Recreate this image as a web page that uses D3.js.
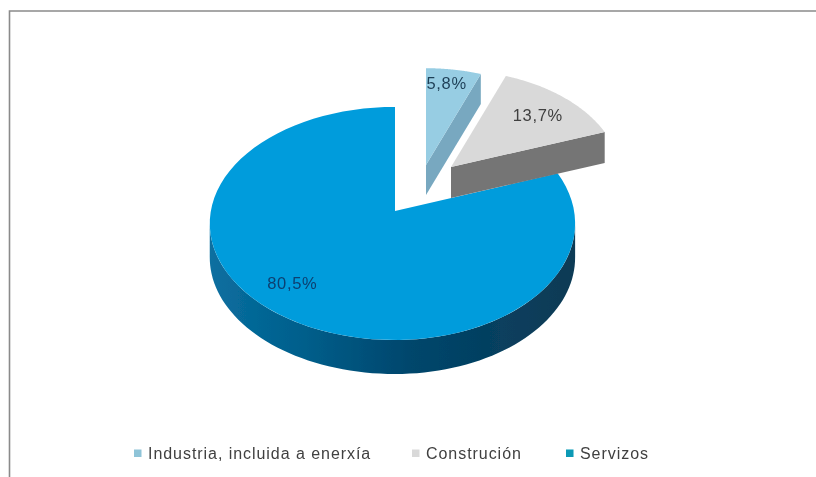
<!DOCTYPE html>
<html><head><meta charset="utf-8">
<script src="https://cdnjs.cloudflare.com/ajax/libs/d3/7.8.5/d3.min.js"></script>
<style>html,body{margin:0;padding:0;background:#fff}svg{display:block}text{font-family:"Liberation Sans",Arial,sans-serif}</style>
</head><body>
<svg id="c" width="816" height="477"></svg>
<script>
const categories = ["Industria, incluida a enerxía", "Construción", "Servizos"];
const values = [5.8, 13.7, 80.5];
const topColors = ["#97cde3", "#d9d9d9", "#049cdc"];
const wallColors = ["#78a8c0", "#757575", "#005f8c"];
const legendColors = ["#8fc4d8", "#d9d9d9", "#0899b5"];

const svg = d3.select("#c");
const defs = svg.append("defs");
defs.append("filter").attr("id","soft").attr("x","-5%").attr("y","-5%").attr("width","110%").attr("height","110%")
  .append("feGaussianBlur").attr("stdDeviation",0.55);
defs.append("filter").attr("id","softText").attr("x","-5%").attr("y","-20%").attr("width","110%").attr("height","140%")
  .append("feGaussianBlur").attr("stdDeviation",0.35);
const grad = defs.append("linearGradient").attr("id","rim").attr("gradientUnits","userSpaceOnUse")
  .attr("x1",210).attr("x2",575).attr("y1",0).attr("y2",0);
[[0,"#0a6fa0"],[0.25,"#005f8c"],[0.55,"#00466c"],[0.8,"#073f5e"],[1,"#0a3a55"]].forEach(([o,c])=>
  grad.append("stop").attr("offset",o).attr("stop-color",c));

// frame
svg.append("path").attr("d","M9.5,477V11H816").attr("fill","none").attr("stroke","#8a8a8a").attr("stroke-width",1.6).attr("filter","url(#softText)");

const pieGen = d3.pie().sort(null).startAngle(0).endAngle(2*Math.PI);
const arcs = pieGen(values);

// perspective disc projection
const K = 0.107, RX = 182, RY = 115.2;
const sx = d3.scaleLinear().domain([0,1]).range([0,RX]);
const sy = d3.scaleLinear().domain([0,1]).range([0,RY]);
function project(theta, f, o){
  const u = f*Math.sin(theta), v = f*Math.cos(theta), w = 1+K*v;
  return [o.x + o.s*sx(u/w)*(u<0?o.lf:o.rf), o.y - o.s*sy(v/w)];
}
const origins = [
  {x:426,y:165,s:0.93,d:30,lf:1,rf:1},
  {x:451,y:167,s:0.93,d:31,lf:1,rf:1},
  {x:395,y:211,s:1,d:34,lf:1.012,rf:0.984}];
const line = d3.line();
const sample = (a,b,n=80)=>d3.range(n+1).map(i=>a+(b-a)*i/n);

const g = svg.append("g").attr("filter","url(#soft)");
[2,1,0].forEach(i=>{
  const a = arcs[i], o = origins[i];
  const apex = [o.x,o.y];
  const rimPts = sample(a.startAngle,a.endAngle).map(t=>project(t,1,o));
  if(i===2){
    const front = sample(Math.PI*0.533, Math.PI*1.467).map(t=>project(t,1,o));
    const poly = front.concat(front.slice().reverse().map(p=>[p[0],p[1]+o.d]));
    g.append("path").attr("d",line(poly)+"Z").attr("fill","url(#rim)");
  } else {
    const end = project(a.endAngle,1,o);
    const wall = [apex,end,[end[0],end[1]+o.d],[apex[0],apex[1]+o.d]];
    g.append("path").attr("d",line(wall)+"Z").attr("fill",wallColors[i]);
  }
  g.append("path").attr("d",line([apex].concat(rimPts))+"Z").attr("fill",topColors[i]);
});

// data labels
const fmt = d3.formatLocale({decimal:",",thousands:".",grouping:[3],currency:["","%"]}).format(".1f");
const labelF = [0.8,0.75,0.78], labelNudge = [[-2,-3],[1,2],[-14,-6]];
const labelColors = ["#1f3f57","#404040","#0b3f70"];
const labels = svg.append("g").attr("filter","url(#softText)");
arcs.forEach((a,i)=>{
  const p = project((a.startAngle+a.endAngle)/2,labelF[i],origins[i]);
  labels.append("text").attr("x",p[0]+labelNudge[i][0]).attr("y",p[1]+labelNudge[i][1]+5)
    .attr("text-anchor","middle").attr("font-size",16.5).attr("letter-spacing",0.7).attr("fill",labelColors[i])
    .text(fmt(values[i])+"%");
});

// legend
const legendX = d3.scaleOrdinal().domain(categories).range([134,412,566]);
const legend = svg.append("g").attr("filter","url(#softText)").selectAll("g").data(categories).join("g")
  .attr("transform",d=>`translate(${legendX(d)},453)`);
legend.append("rect").attr("x",0).attr("y",-3.5).attr("width",7.5).attr("height",7.5)
  .attr("fill",(d,i)=>legendColors[i]);
legend.append("text").attr("x",14).attr("y",5.5).attr("font-size",16).attr("fill","#404040")
  .attr("letter-spacing",0.95).text(d=>d);
</script>
</body></html>
